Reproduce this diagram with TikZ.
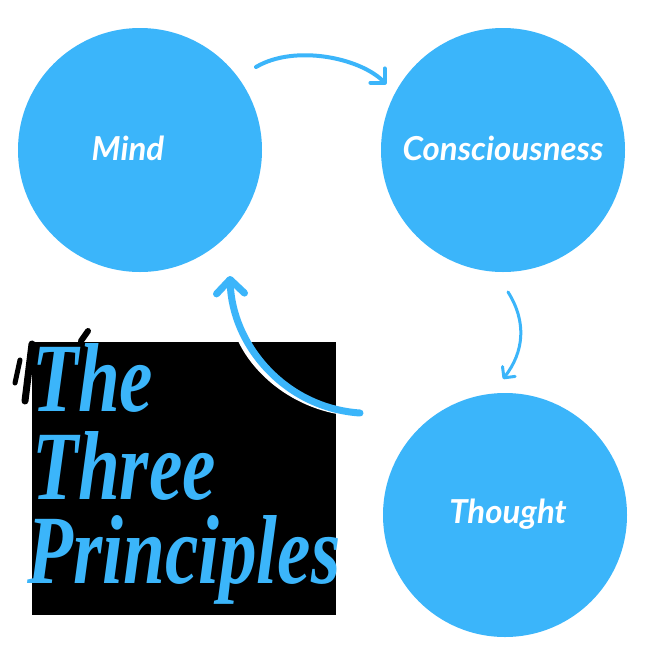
\documentclass[tikz,border=0pt]{standalone}
\usepackage{fontspec}
\setmainfont{Liberation Serif}
\newfontfamily\labelfont{Lato}
\usetikzlibrary{arrows.meta}
\definecolor{skyb}{RGB}{59,181,250}
\begin{document}
\begin{tikzpicture}[x=1pt,y=-1pt,
  bubble/.style={circle,fill=skyb,minimum size=244pt,inner sep=0pt},
  bubbletext/.style={text=white,inner sep=0pt,font=\labelfont\bfseries\itshape\fontsize{33}{38}\selectfont},
  titletext/.style={text=skyb,inner sep=0pt,align=left,xscale=0.767,font=\bfseries\itshape\fontsize{98}{88}\selectfont},
  thinarrow/.style={draw=skyb,line width=4pt,line cap=round,-{Straight Barb[length=10pt,width=20pt,round]}},
  slimarrow/.style={draw=skyb,line width=3pt,line cap=round,-{Straight Barb[length=8pt,width=16pt,round]}},
  bigarrow/.style={draw=skyb,line width=7pt,line cap=round,-{Straight Barb[length=14pt,width=28pt,round]}},
  halo/.style={draw=white,line width=7pt,line cap=round},
  smudge/.style={draw=black,line cap=round}
]
\useasboundingbox (0,0) rectangle (651,651);
\fill[white] (0,0) rectangle (651,651);

% dark panel with smudges
\draw[smudge,line width=7pt] (25,401) -- (32,344);
\draw[smudge,line width=5pt] (15,383) -- (20,360);
\draw[smudge,line width=6pt] (81,341) -- (88,331);
\fill[black] (32,342) rectangle (336,615);

% circles
\node[bubble] (mind) at (140,150) {};
\node[bubble] (cons) at (503,150) {};
\node[bubble] (thought) at (505,515) {};

\node[bubbletext] (mindlbl) at (128,148) {Mind};
\node[bubbletext] (conslbl) at (503,148) {Consciousness};
\node[bubbletext] (thoughtlbl) at (508,514) {Thought};

% title
\node[titletext,anchor=south west] (title) at (27,605)
  {\hspace*{6.5pt}The\\\hspace*{6.5pt}Three\\[-4pt]Principles};

% connector end points
\coordinate (a1s) at (256,67);
\coordinate (a1e) at (386,84);
\coordinate (a2s) at (508,292);
\coordinate (a2e) at (503,379);
\coordinate (a3s) at (360,413);
\coordinate (a3e) at (230,276);

% arrows
\draw[thinarrow] (a1s) .. controls (295,44) and (360,58) .. (a1e);
\draw[slimarrow] (a2s) .. controls (527,322) and (524,352) .. (a2e);
\begin{scope}[shift={(-2.5,2.5)}]
\draw[halo] (a3s) .. controls (285,408) and (232,345) .. (236,300);
\end{scope}
\draw[bigarrow] (a3s) .. controls (285,408) and (232,345) .. (a3e);
\end{tikzpicture}
\end{document}
